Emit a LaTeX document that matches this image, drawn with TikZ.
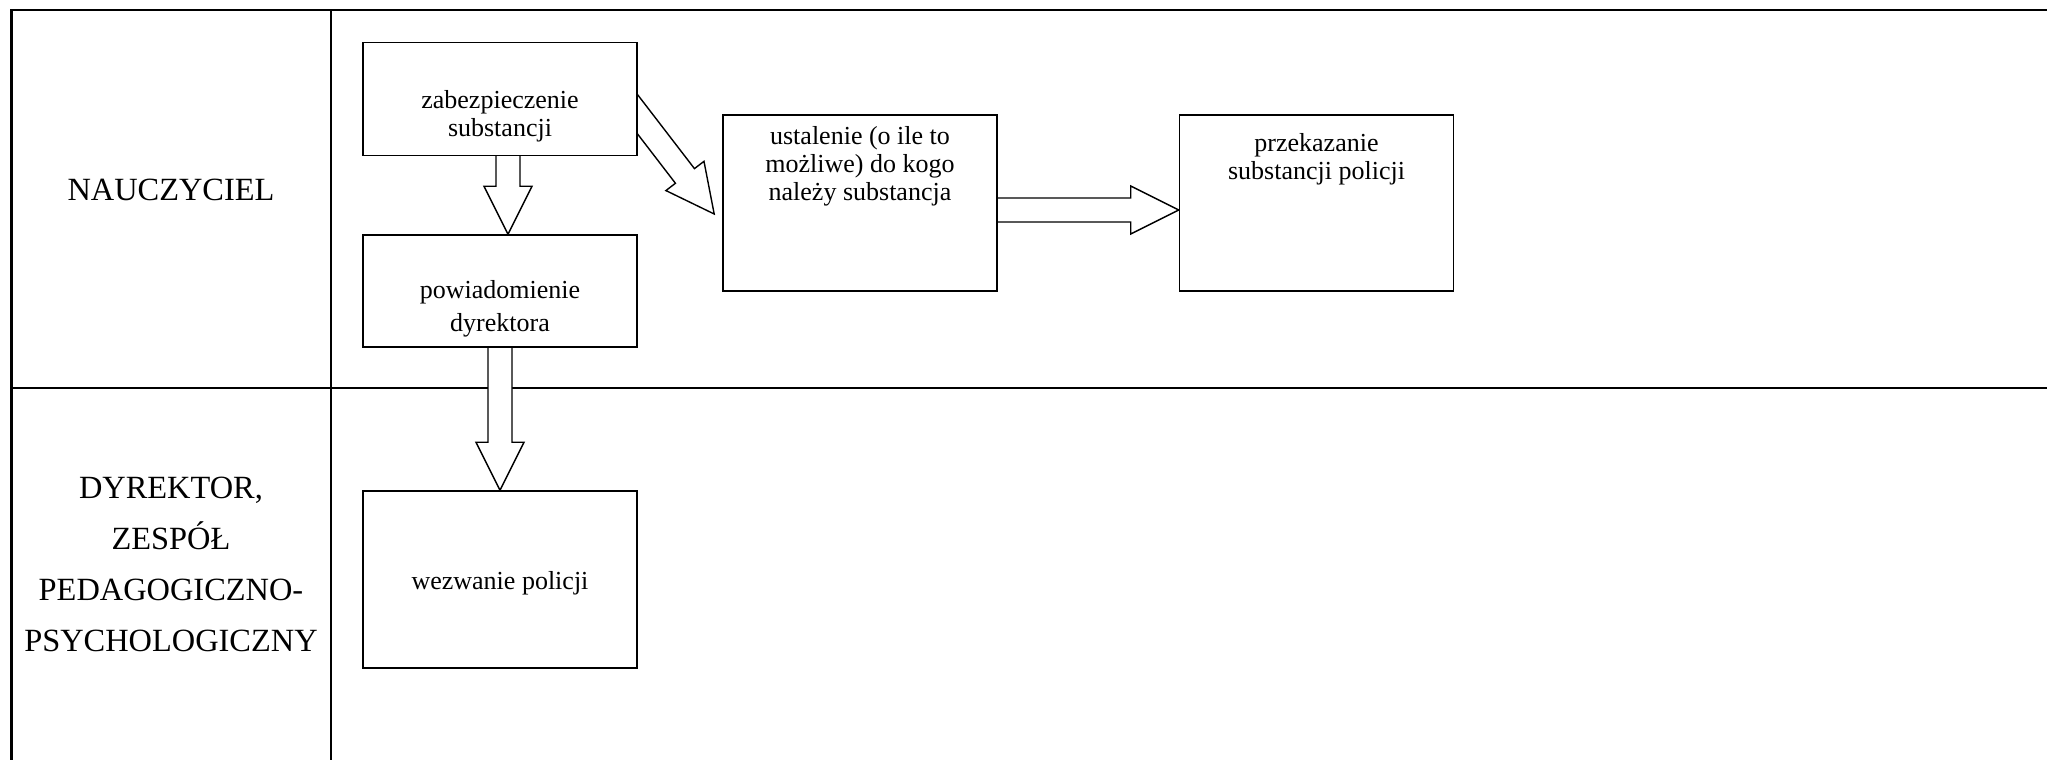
\documentclass[tikz,border=0pt]{standalone}
\usepackage{fontspec}
\setmainfont{Liberation Serif}
\usetikzlibrary{calc,backgrounds}

% strzałka blokowa: #1 początek (schowany pod polem), #2 grot
\newcommand{\blok}[2]{%
  \coordinate (baza) at ($(#2)!24pt!(#1)$);
  \draw[strzalka] ($(#1)!6pt!90:(#2)$) -- ($(baza)!6pt!90:(#2)$)
    -- ($(baza)!12pt!90:(#2)$) -- (#2) -- ($(baza)!12pt!-90:(#2)$)
    -- ($(baza)!6pt!-90:(#2)$) -- ($(#1)!6pt!-90:(#2)$) -- cycle;
}

\begin{document}
\begin{tikzpicture}[x=0.5pt, y=-0.5pt,
    tor/.style={line width=1.1pt},
    krok/.style={draw, line width=0.8pt, fill=white, minimum width=137pt, inner sep=0pt},
    opis/.style={inner sep=0pt, align=center, font=\fontsize{13}{14}\selectfont},
    pas/.style={inner sep=0pt, align=center, font=\fontsize{16.2}{25.5}\selectfont},
    strzalka/.style={fill=white, line width=0.7pt, line join=miter}]
\useasboundingbox (0,0) rectangle (2047,760);

% tory
\begin{scope}[on background layer]
\draw[tor] (11.5,760) -- (11.5,10) -- (2047,10);
\draw[tor] (331,10) -- (331,760);
\draw[tor] (11.5,388) -- (2047,388);
\end{scope}

\node[pas] (naucz) at (171,189.5) {NAUCZYCIEL};
\node[pas] (dyrekt) at (171,564) {DYREKTOR,\\ZESPÓŁ\\PEDAGOGICZNO-\\PSYCHOLOGICZNY};

\node[krok, minimum height=56.5pt] (zabezp) at (500,99) {};
\node[krok, minimum height=56pt] (powiad) at (500,291) {};
\node[krok, minimum height=88pt] (ustal) at (860,203) {};
\node[krok, minimum height=88pt] (przek) at (1316.5,203) {};
\node[krok, minimum height=88.5pt] (wezw) at (500,579.5) {};

\node[opis] (t1) at (500,116) {zabezpieczenie\\substancji};
\node[opis, font=\fontsize{13}{16.5}\selectfont] (t2) at (500,309) {powiadomienie\\dyrektora};
\node[opis, anchor=north] (t3) at (860,126) {ustalenie (o ile to\\możliwe) do kogo\\należy substancja};
\node[opis, anchor=north] (t4) at (1316.5,133) {przekazanie\\substancji policji};
\node[opis] (t5) at (500,583) {wezwanie policji};

\coordinate (s1) at ($(zabezp.south)+(8,-10)$);
\coordinate (k1) at ($(powiad.north)+(8,0)$);
\coordinate (s2) at ($(zabezp.east)+(-12,0)$);
\coordinate (k2) at ($(ustal.west)+(-8,11)$);
\coordinate (s3) at ($(ustal.east)+(-10,7)$);
\coordinate (k3) at ($(przek.west)+(0,7)$);
\coordinate (s4) at ($(powiad.south)+(0,-10)$);

\begin{scope}[on background layer]
\blok{s1}{k1}
\blok{s2}{k2}
\blok{s3}{k3}
\blok{s4}{wezw.north}
\end{scope}
\end{tikzpicture}
\end{document}
